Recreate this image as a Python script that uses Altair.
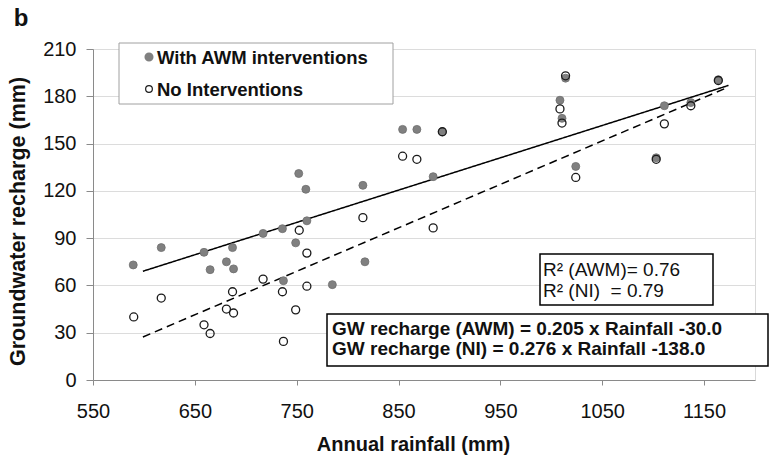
import altair as alt
import pandas as pd

# Annual rainfall (mm) vs groundwater recharge (mm)
awm_rain = [589.5, 617, 659, 665, 681, 687, 688, 717, 736, 737, 749, 752, 759, 760,
            785, 815, 817, 854, 868, 884, 893, 1008.5, 1010.5, 1014, 1024, 1103, 1111,
            1137, 1164]
awm_recharge = [73, 84, 81, 70, 75, 84, 70.5, 93, 96, 63, 87, 131, 121, 101,
                60.5, 123.5, 75, 159, 159, 129, 157.5, 177.5, 166, 191.5, 135.5, 141, 174,
                176, 190.5]

ni_rain = [590, 617, 659, 665, 681, 687, 688, 717, 736, 737, 749, 752.5, 760, 760,
           815, 854, 868, 884, 893, 1008.5, 1010.5, 1014, 1024, 1103, 1111, 1137, 1164]
ni_recharge = [40, 52, 35, 29.5, 45, 56, 42.5, 64, 56, 24.5, 44.5, 95, 80.5, 59.5,
               103, 142, 140, 96.5, 157.5, 172, 163, 193, 128.5, 140, 162.5, 174, 190]

# Fitted trend lines (end points)
fit_rain = [599, 1174]
awm_fit = [69.0, 186.9]
ni_fit = [27.3, 185.9]

x_ticks = [550, 650, 750, 850, 950, 1050, 1150]
y_ticks = [0, 30, 60, 90, 120, 150, 180, 210]

legend_labels = ["With AWM interventions", "No Interventions"]
r2_lines = ["R\u00b2 (AWM)= 0.76", "R\u00b2 (NI) \u00a0= 0.79"]
eq_lines = ["GW recharge (AWM) = 0.205 x Rainfall -30.0",
            "GW recharge (NI) = 0.276 x Rainfall -138.0"]

FONT = "Liberation Sans"
W, H = 662, 331

awm_df = pd.DataFrame({"rain": awm_rain, "recharge": awm_recharge})
ni_df = pd.DataFrame({"rain": ni_rain, "recharge": ni_recharge})
fit_df = pd.DataFrame({"rain": fit_rain + fit_rain,
                       "recharge": awm_fit + ni_fit,
                       "series": ["AWM", "AWM", "NI", "NI"]})

x_scale = alt.Scale(domain=[550, 1200], nice=False, zero=False)
y_scale = alt.Scale(domain=[0, 210], nice=False)

x_enc = alt.X("rain:Q", scale=x_scale,
              axis=alt.Axis(values=x_ticks, format="d", grid=False, labelFlush=False,
                            title="Annual rainfall (mm)",
                            titleX=320, titleY=64, titleBaseline="middle",
                            titleFontSize=20, titleFontWeight="bold",
                            labelPadding=16, tickSize=5, labelFontSize=20))
y_enc = alt.Y("recharge:Q", scale=y_scale,
              axis=alt.Axis(values=y_ticks, format="d", grid=True, labelFlush=False,
                            title="Groundwater recharge (mm)",
                            titleX=-75, titleY=172, titleAngle=270,
                            titleBaseline="middle", titleAlign="center",
                            titleFontSize=21.5, titleFontWeight="bold",
                            labelPadding=10, tickSize=7, labelFontSize=20))

lines = alt.Chart(fit_df).mark_line(color="black", strokeWidth=1.5).encode(
    x=x_enc, y=y_enc,
    strokeDash=alt.StrokeDash("series:N", legend=None,
                              scale=alt.Scale(domain=["AWM", "NI"], range=[[1, 0], [8, 5]])),
    detail="series:N",
)

awm_pts = alt.Chart(awm_df).mark_point(
    shape="circle", filled=True, size=64, fill="#808080", stroke="#6e6e6e",
    strokeWidth=0.8, opacity=1
).encode(x=alt.X("rain:Q", scale=x_scale), y=alt.Y("recharge:Q", scale=y_scale))

ni_pts = alt.Chart(ni_df).mark_point(
    shape="circle", filled=False, size=64, stroke="#1a1a1a", strokeWidth=1.3,
    fill="transparent", opacity=1
).encode(x=alt.X("rain:Q", scale=x_scale), y=alt.Y("recharge:Q", scale=y_scale))


def box(x0, x1, y0, y1, stroke, width):
    return alt.Chart(pd.DataFrame({"k": [0]})).mark_rect(
        fill="white", stroke=stroke, strokeWidth=width
    ).encode(x=alt.value(x0), x2=alt.value(x1), y=alt.value(y0), y2=alt.value(y1))


def label(text, x, y, size, weight="normal", align="left"):
    return alt.Chart(pd.DataFrame({"t": [text]})).mark_text(
        align=align, baseline="middle", font=FONT, fontSize=size, fontWeight=weight,
        color="#111"
    ).encode(x=alt.value(x), y=alt.value(y), text="t:N")


# Legend
leg_box = box(26, 300, -6, 55, "#a0a0a0", 1)
leg_sym_awm = alt.Chart(pd.DataFrame({"k": [0]})).mark_point(
    shape="circle", filled=True, size=50, fill="#808080", stroke="#808080", opacity=1
).encode(x=alt.value(56), y=alt.value(8))
leg_sym_ni = alt.Chart(pd.DataFrame({"k": [0]})).mark_point(
    shape="circle", filled=False, size=45, stroke="#1a1a1a", strokeWidth=1.2, opacity=1
).encode(x=alt.value(56), y=alt.value(40))
leg_t1 = label(legend_labels[0], 64, 9, 18.5, "bold")
leg_t2 = label(legend_labels[1], 64, 41, 18.5, "bold")

# R-squared box
r2_box = box(447, 620, 205, 256, "black", 1.5)
r2_t1 = label(r2_lines[0], 450, 221, 19)
r2_t2 = label(r2_lines[1], 450, 242, 19)

# Regression equation box
eq_box = box(234, 675, 265, 317, "black", 1.5)
eq_t1 = label(eq_lines[0], 239, 280, 19, "bold")
eq_t2 = label(eq_lines[1], 239, 300, 19, "bold")

panel = label("b", -72, -30, 24, "bold", "center")

chart = alt.layer(
    lines, awm_pts, ni_pts, leg_box, leg_sym_awm, leg_sym_ni, leg_t1, leg_t2,
    r2_box, r2_t1, r2_t2, eq_box, eq_t1, eq_t2, panel
).properties(
    width=W, height=H,
    autosize=alt.AutoSizeParams(type="none"),
    padding={"left": 93, "top": 49, "right": 14, "bottom": 78},
    background="white",
).configure_view(
    stroke="#d9d9d9", strokeWidth=1
).configure_axis(
    domainColor="#8a8a8a", tickColor="#8a8a8a", gridColor="#dcdcdc",
    labelFont=FONT, titleFont=FONT, labelColor="#111", titleColor="#111",
    domainWidth=1, tickWidth=1
)

chart.save("out.html", embed_options={"renderer": "svg", "actions": False})
